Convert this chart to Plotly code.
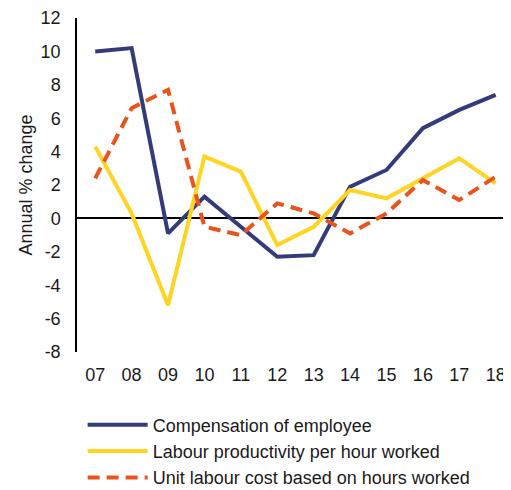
import plotly.graph_objects as go

years = ["07", "08", "09", "10", "11", "12", "13", "14", "15", "16", "17", "18"]
compensation = [10.0, 10.2, -0.9, 1.3, -0.5, -2.3, -2.2, 1.9, 2.9, 5.4, 6.5, 7.4]
productivity = [4.3, 0.3, -5.2, 3.7, 2.8, -1.6, -0.5, 1.7, 1.2, 2.4, 3.6, 2.1]
unit_cost = [2.4, 6.6, 7.7, -0.5, -1.0, 0.9, 0.3, -0.9, 0.3, 2.3, 1.1, 2.5]
y_ticks = [12, 10, 8, 6, 4, 2, 0, -2, -4, -6, -8]
y_labels = ["12", "10", "8", "6", "4", "2", "0", "-2", "-4", "-6", "-8"]

fig = go.Figure()
fig.add_trace(go.Scatter(x=years, y=compensation, mode='lines', name='Compensation of employee',
                         line=dict(color='#333b7b', width=4)))
fig.add_trace(go.Scatter(x=years, y=productivity, mode='lines', name='Labour productivity per hour worked',
                         line=dict(color='#ffd422', width=4)))
fig.add_trace(go.Scatter(x=years, y=unit_cost, mode='lines', name='Unit labour cost based on hours worked',
                         line=dict(color='#e9541c', width=4, dash='12px,7px')))

# page body has an 8px margin, so the figure is 8px smaller and shifted
fig.update_layout(
    width=503, height=482,
    margin=dict(l=69, r=0, t=10, b=138, autoexpand=False),
    paper_bgcolor='white', plot_bgcolor='white',
    font=dict(family='Liberation Sans, Arial', size=18, color='#1a1a1a'),
    showlegend=True,
    legend=dict(x=0.013, y=-0.163, xanchor='left', yanchor='top', orientation='v',
                itemwidth=60, font=dict(size=18), tracegroupgap=0,
                bgcolor='rgba(0,0,0,0)'),
)
fig.update_xaxes(type='category', range=[-0.5, 11.42], showgrid=False, showline=False,
                 ticks='', ticklabelstandoff=10, automargin=False)
fig.update_yaxes(range=[-8, 12], tickvals=y_ticks, ticktext=y_labels, showgrid=False, showline=True,
                 linecolor='black', linewidth=1.5, ticks='', zeroline=True,
                 zerolinecolor='black', zerolinewidth=1.5, ticklabelstandoff=11,
                 automargin=False,
                 title=dict(text='Annual % change', standoff=3, font=dict(size=18)))

fig.write_html("out.html")
